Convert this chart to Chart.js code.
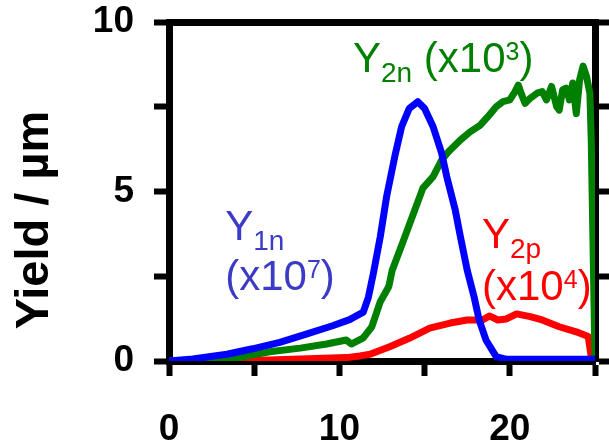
<!DOCTYPE html>
<html>
<head>
<meta charset="utf-8">
<script src="https://cdn.jsdelivr.net/npm/chart.js@4.4.1/dist/chart.umd.min.js"></script>
<style>
  html, body { margin: 0; padding: 0; background: #fff; }
  #wrap { width: 609px; height: 444px; }
</style>
</head>
<body>
<div id="wrap"><canvas id="yieldChart" width="609" height="444"></canvas></div>
<script>
// Yield curves (x in arbitrary units, y in µm, scaled)
const y1nX = [0, 1.4, 3.4, 4.9, 6.5, 8.1, 9.6, 10.6, 11.4, 11.7, 12.0, 12.4, 12.77, 13.25, 13.65, 14.1, 14.6, 15.0, 15.5, 16.0, 16.3, 16.8, 17.1, 17.5, 17.9, 18.2, 18.6, 19.2, 19.8, 25];
const y1nY = [0, 0.06, 0.2, 0.36, 0.55, 0.8, 1.04, 1.22, 1.44, 1.88, 2.6, 3.67, 4.85, 6.03, 6.91, 7.45, 7.65, 7.45, 6.91, 6.13, 5.44, 4.45, 3.67, 2.68, 1.9, 1.21, 0.62, 0.13, 0.05, 0.05];

const y2nX = [0, 2.4, 4.3, 5.9, 7.7, 9.25, 10.4, 10.7, 11.4, 11.9, 12.4, 12.9, 13.1, 13.7, 14.2, 14.9, 15.5, 16.0, 16.4, 17.1, 17.65, 18.25, 18.7, 19.2, 19.6, 20.0, 20.3, 20.5, 20.7, 20.9, 21.2, 21.6, 21.9, 22.15, 22.45, 22.75, 22.9, 23.1, 23.3, 23.5, 23.7, 23.9, 24.1, 24.3, 24.5, 24.7, 24.78, 25.0];
const y2nY = [0, 0.05, 0.12, 0.27, 0.38, 0.5, 0.62, 0.5, 0.68, 1.01, 1.75, 2.2, 2.68, 3.47, 4.15, 5.1, 5.44, 5.93, 6.17, 6.52, 6.75, 6.95, 7.2, 7.5, 7.65, 7.7, 7.94, 8.14, 7.85, 7.6, 7.75, 7.9, 7.95, 7.7, 8.1, 7.5, 7.4, 8.0, 8.05, 7.7, 8.2, 7.3, 8.3, 8.7, 8.4, 7.9, 6.5, 0];

const y2pX = [0, 5.9, 10.4, 11.2, 11.8, 12.95, 14.1, 15.3, 16.5, 17.5, 18.4, 18.8, 19.3, 19.8, 20.4, 21.2, 21.9, 22.9, 23.9, 24.6, 24.8];
const y2pY = [0, 0.03, 0.1, 0.15, 0.2, 0.42, 0.67, 0.97, 1.12, 1.21, 1.21, 1.33, 1.21, 1.24, 1.39, 1.31, 1.21, 1.01, 0.86, 0.72, 0.05];

const xTicks = [0, 10, 20];
const yTicks = [0, 5, 10];

// Series labels: anchor in data units, text parts
const seriesLabels = [
  { x: 3.3, y: 3.57, color: "#3b3bc8", main: "Y", sub: "1n", line2: { y: 2.09, pre: "(x10", sup: "7", post: ")" } },
  { x: 10.8, y: 8.52, color: "#008000", main: "Y", sub: "2n", inline: { pre: " (x10", sup: "3", post: ")" } },
  { x: 18.37, y: 3.33, color: "#ff0000", main: "Y", sub: "2p", line2: { y: 1.8, pre: "(x10", sup: "4", post: ")" } },
];

const FONT = "'Liberation Sans', Arial, sans-serif";

const toPoints = (xs, ys) => xs.map((x, i) => ({ x, y: ys[i] }));

const lineStyle = {
  borderWidth: 7,
  pointRadius: 0,
  tension: 0,
  fill: false,
  borderJoinStyle: "round",
  borderCapStyle: "round",
};

// draws the coloured series captions and the rotated y title
const labelPlugin = {
  id: "seriesLabels",
  afterDatasetsDraw(chart) {
    const { ctx, scales, chartArea } = chart;
    const xs = scales.x, ys = scales.y;
    ctx.save();
    ctx.textBaseline = "alphabetic";
    ctx.textAlign = "left";

    const drawSup = (px, py, part, color) => {
      ctx.fillStyle = color;
      ctx.font = "42px " + FONT;
      ctx.fillText(part.pre, px, py);
      px += ctx.measureText(part.pre).width;
      ctx.font = "25px " + FONT;
      ctx.fillText(part.sup, px, py - 12);
      px += ctx.measureText(part.sup).width;
      ctx.font = "42px " + FONT;
      ctx.fillText(part.post, px, py);
    };

    seriesLabels.forEach((lab) => {
      let px = xs.getPixelForValue(lab.x);
      const py = ys.getPixelForValue(lab.y);
      ctx.fillStyle = lab.color;
      ctx.font = "42px " + FONT;
      ctx.fillText(lab.main, px, py);
      px += ctx.measureText(lab.main).width;
      ctx.font = "28px " + FONT;
      ctx.fillText(lab.sub, px, py + 10);
      px += ctx.measureText(lab.sub).width;
      if (lab.inline) drawSup(px, py, lab.inline, lab.color);
      if (lab.line2) drawSup(xs.getPixelForValue(lab.x), ys.getPixelForValue(lab.line2.y), lab.line2, lab.color);
    });

    // y axis title
    ctx.translate(chartArea.left - 121, 220);
    ctx.rotate(-Math.PI / 2);
    ctx.textAlign = "center";
    ctx.fillStyle = "#000";
    ctx.font = "bold 47px " + FONT;
    ctx.fillText("Yield / µm", 0, 0);
    ctx.restore();
  },
};

const axisGrid = {
  drawOnChartArea: false,
  drawTicks: true,
  tickLength: 15,
  tickWidth: 6,
  tickColor: "#000",
};
const axisBorder = { display: true, width: 7, color: "#000" };
const tickFont = { family: FONT, size: 37, weight: "bold" };

// keep tick-label overflow from shrinking the plot area
const noLabelPadding = (s) => {
  s.paddingLeft = 0;
  s.paddingRight = 0;
  s.paddingTop = 0;
  s.paddingBottom = 0;
};

new Chart(document.getElementById("yieldChart"), {
  type: "line",
  data: {
    datasets: [
      { label: "Y1n", data: toPoints(y1nX, y1nY), borderColor: "#0000ff", ...lineStyle },
      { label: "Y2n", data: toPoints(y2nX, y2nY), borderColor: "#008000", ...lineStyle },
      { label: "Y2p", data: toPoints(y2pX, y2pY), borderColor: "#ff0000", ...lineStyle },
    ],
  },
  options: {
    responsive: false,
    animation: false,
    layout: { padding: { top: 22, left: 0, right: 0, bottom: 0 } },
    plugins: { legend: { display: false }, tooltip: { enabled: false } },
    scales: {
      x: {
        type: "linear",
        position: "bottom",
        min: 0,
        max: 25,
        grid: axisGrid,
        border: axisBorder,
        ticks: {
          stepSize: 5,
          color: "#000",
          font: tickFont,
          padding: 32,
          maxRotation: 0,
          callback: (v) => (xTicks.includes(v) ? v : ""),
        },
        afterFit: (s) => { s.height = 83; noLabelPadding(s); },
      },
      x2: {
        type: "linear",
        position: "top",
        min: 0,
        max: 25,
        grid: { display: true, drawOnChartArea: false, drawTicks: false },
        border: axisBorder,
        ticks: { display: false },
        afterFit: (s) => { s.height = 0; noLabelPadding(s); },
      },
      y: {
        min: 0,
        max: 10,
        grid: axisGrid,
        border: axisBorder,
        ticks: {
          stepSize: 2.5,
          color: "#000",
          font: tickFont,
          padding: 20,
          callback: (v) => (yTicks.includes(v) ? v : ""),
        },
        afterFit: (s) => { s.width = 169; noLabelPadding(s); },
      },
      y2: {
        position: "right",
        min: 0,
        max: 10,
        grid: axisGrid,
        border: axisBorder,
        ticks: { display: false, stepSize: 2.5 },
        afterFit: (s) => { s.width = 14; noLabelPadding(s); },
      },
    },
  },
  plugins: [labelPlugin],
});
</script>
</body>
</html>
